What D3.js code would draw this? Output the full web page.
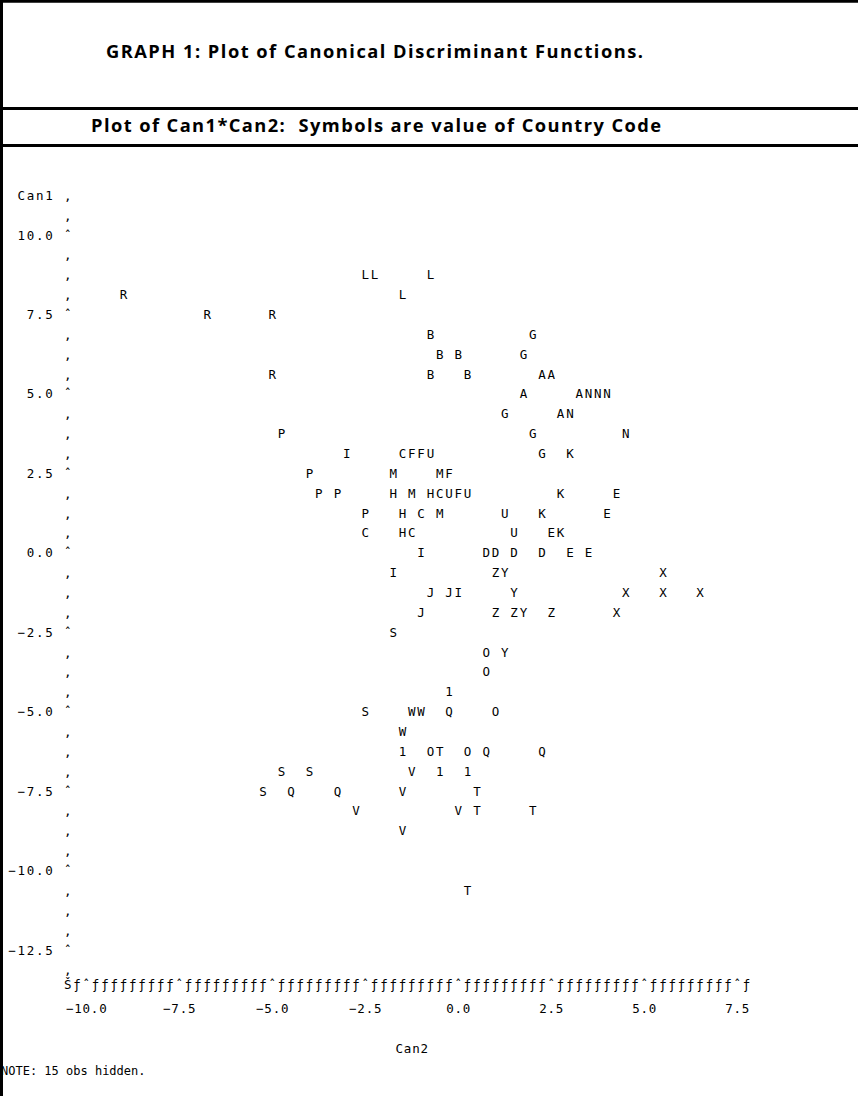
<!DOCTYPE html>
<html><head><meta charset="utf-8">
<script src="https://cdn.jsdelivr.net/npm/d3@7/dist/d3.min.js"></script>
<style>body{margin:0;background:#fff}svg{display:block}</style>
</head><body>
<script>
// ---- data ----
const codes = [
 "L","L","L",
 "R","L",
 "R","R",
 "B","G",
 "B","B","G",
 "R","B","B","A","A",
 "A","A","N","N","N",
 "G","A","N",
 "P","G","N",
 "I","C","F","F","U","G","K",
 "P","M","M","F",
 "P","P","H","M","H","C","U","F","U","K","E",
 "P","H","C","M","U","K","E",
 "C","H","C","U","E","K",
 "I","D","D","D","D","E","E",
 "I","Z","Y","X",
 "J","J","I","Y","X","X","X",
 "J","Z","Z","Y","Z","X",
 "S",
 "O","Y",
 "O",
 "1",
 "S","W","W","Q","O",
 "W",
 "1","O","T","O","Q","Q",
 "S","S","V","1","1",
 "S","Q","Q","V","T",
 "V","V","T","T",
 "V",
 "T"
];
const can2 = [
 -2.5,-2.25,-0.75,
 -9.0,-1.5,
 -6.75,-5.0,
 -0.75,2.0,
 -0.5,0.0,1.75,
 -5.0,-0.75,0.25,2.25,2.5,
 1.75,3.25,3.5,3.75,4.0,
 1.25,2.75,3.0,
 -4.75,2.0,4.5,
 -3.0,-1.5,-1.25,-1.0,-0.75,2.25,3.0,
 -4.0,-1.75,-0.5,-0.25,
 -3.75,-3.25,-1.75,-1.25,-0.75,-0.5,-0.25,0.0,0.25,2.75,4.25,
 -2.5,-1.5,-1.0,-0.5,1.25,2.25,4.0,
 -2.5,-1.5,-1.25,1.5,2.5,2.75,
 -1.0,0.75,1.0,1.5,2.25,3.0,3.5,
 -1.75,1.0,1.25,5.5,
 -0.75,-0.25,0.0,1.5,4.5,5.5,6.5,
 -1.0,1.0,1.5,1.75,2.5,4.25,
 -1.75,
 0.75,1.25,
 0.75,
 -0.25,
 -2.5,-1.25,-1.0,-0.25,1.0,
 -1.5,
 -1.5,-0.75,-0.5,0.25,0.75,2.25,
 -4.75,-4.0,-1.25,-0.5,0.25,
 -5.25,-4.5,-3.25,-1.5,0.5,
 -2.75,0.0,0.5,2.0,
 -1.5,
 0.25
];
const can1 = [
 8.75,8.75,8.75,
 8.125,8.125,
 7.5,7.5,
 6.875,6.875,
 6.25,6.25,6.25,
 5.625,5.625,5.625,5.625,5.625,
 5.0,5.0,5.0,5.0,5.0,
 4.375,4.375,4.375,
 3.75,3.75,3.75,
 3.125,3.125,3.125,3.125,3.125,3.125,3.125,
 2.5,2.5,2.5,2.5,
 1.875,1.875,1.875,1.875,1.875,1.875,1.875,1.875,1.875,1.875,1.875,
 1.25,1.25,1.25,1.25,1.25,1.25,1.25,
 0.625,0.625,0.625,0.625,0.625,0.625,
 0,0,0,0,0,0,0,
 -0.625,-0.625,-0.625,-0.625,
 -1.25,-1.25,-1.25,-1.25,-1.25,-1.25,-1.25,
 -1.875,-1.875,-1.875,-1.875,-1.875,-1.875,
 -2.5,
 -3.125,-3.125,
 -3.75,
 -4.375,
 -5.0,-5.0,-5.0,-5.0,-5.0,
 -5.625,
 -6.25,-6.25,-6.25,-6.25,-6.25,-6.25,
 -6.875,-6.875,-6.875,-6.875,-6.875,
 -7.5,-7.5,-7.5,-7.5,-7.5,
 -8.125,-8.125,-8.125,-8.125,
 -8.75,
 -10.625
];
const can1Ticks = [10,7.5,5,2.5,0,-2.5,-5,-7.5,-10,-12.5];
const can2Ticks = [-10,-7.5,-5,-2.5,0,2.5,5,7.5];
const titleText = "GRAPH 1: Plot of Canonical Discriminant Functions.";
const subtitleText = "Plot of Can1*Can2:  Symbols are value of Country Code";
const yName = "Can1";
const xName = "Can2";
const noteText = "NOTE: 15 obs hidden.";

// ---- layout ----
const W = 858, H = 1096;
const MONO = "'DejaVu Sans Mono', 'Liberation Mono', monospace";
const FS = 12.5;
const ADV = FS * 0.602;            // natural glyph advance
const colStep = 0.25, rowStep = 0.625;

const x = d3.scaleLinear().domain([-10, 7.5]).range([86.3, 737.3]);
const y = d3.scaleLinear().domain([10, -12.5]).range([235, 950]);
const PITCH = x(-10 + colStep) - x(-10);
const LS = PITCH - ADV;
const colX = c => x(-10 + c * colStep);
const rowY = k => y(10 - k * rowStep);

const svg = d3.select("body").append("svg").attr("width", W).attr("height", H)
  .style("font-family", MONO).style("font-size", FS + "px");

svg.append("rect").attr("width", W).attr("height", H).attr("fill", "#fff");

// frame lines
const frame = svg.append("g").attr("stroke", "#000").attr("stroke-width", 3);
frame.append("line").attr("x1", 0).attr("x2", W).attr("y1", 1.3).attr("y2", 1.3);
frame.append("line").attr("x1", 0).attr("x2", W).attr("y1", 108.5).attr("y2", 108.5);
frame.append("line").attr("x1", 0).attr("x2", W).attr("y1", 145.5).attr("y2", 145.5);
frame.append("line").attr("x1", 1.5).attr("x2", 1.5).attr("y1", 0).attr("y2", H);

// titles
const TFONT = "'Open Sans', Lato, sans-serif";
svg.append("text").attr("x", 106).attr("y", 57.5)
  .attr("textLength", 537).attr("lengthAdjust", "spacing")
  .style("font-family", TFONT).style("font-weight", "bold").style("font-size", "18.3px")
  .text(titleText);
svg.append("text").attr("x", 91).attr("y", 132)
  .attr("textLength", 570).attr("lengthAdjust", "spacing")
  .style("white-space", "pre")
  .style("font-family", TFONT).style("font-weight", "bold").style("font-size", "18.3px")
  .text(subtitleText);

// text placed on the character grid: first char centred in column c
function gridText(g, str, c, yy) {
  return g.append("text")
    .attr("x", colX(c) - ADV / 2)
    .attr("y", yy).attr("dy", "0.36em")
    .style("letter-spacing", LS + "px")
    .style("white-space", "pre")
    .text(str);
}

// vertical axis
const yAxis = svg.append("g");
const yRows = d3.range(-2, 38);
yAxis.selectAll("text.v").data(yRows).join("text")
  .attr("class", "v")
  .attr("x", colX(-2)).attr("y", k => rowY(k)).attr("dy", "0.36em")
  .attr("text-anchor", "middle")
  .text(k => (k >= 0 && k <= 36 && k % 4 === 0) ? "\u02C6" : "\u201A");
can1Ticks.forEach(t => {
  const s = d3.format(".1f")(t);
  gridText(yAxis, s, -4 - (s.length - 1), y(t));
});
gridText(yAxis, yName, -7, rowY(-2));

// horizontal axis line
const axisY = y(-12.5) + 34;
const xCols = d3.range(-2, 72);
svg.append("g").selectAll("text").data(xCols).join("text")
  .attr("x", c => colX(c)).attr("y", axisY).attr("dy", "0.36em")
  .attr("text-anchor", "middle")
  .text(c => c === -2 ? "\u0160" : (c >= 0 && c % 10 === 0 ? "\u02C6" : "\u0192"));

// tick labels
const TLS = 0.8;
svg.append("g").selectAll("text").data(can2Ticks).join("text")
  .attr("x", t => x(t) + TLS / 2).attr("y", axisY + 24).attr("dy", "0.36em")
  .attr("text-anchor", "middle")
  .style("letter-spacing", TLS + "px")
  .text(t => d3.format(".1f")(t));

// x axis name
svg.append("text").attr("x", x(-1.25) + TLS / 2).attr("y", axisY + 64).attr("dy", "0.36em")
  .attr("text-anchor", "middle").style("letter-spacing", TLS + "px").text(xName);

// note
svg.append("text").attr("x", 1).attr("y", axisY + 87).attr("dy", "0.36em")
  .style("font-size", "12px").style("white-space", "pre").text(noteText);

// points (symbols)
const points = codes.map((c, i) => ({code: c, can2: can2[i], can1: can1[i]}));
svg.append("g").selectAll("text").data(points).join("text")
  .attr("x", d => x(d.can2)).attr("y", d => y(d.can1)).attr("dy", "0.36em")
  .attr("text-anchor", "middle")
  .text(d => d.code);
</script>
</body></html>
